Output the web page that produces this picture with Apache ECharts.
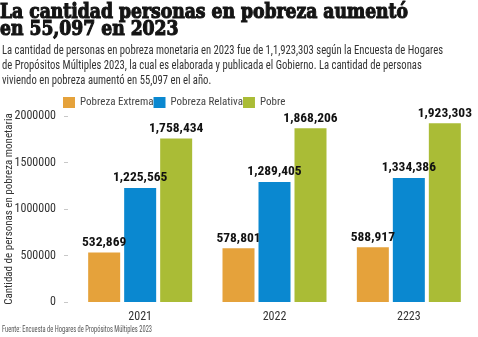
<!DOCTYPE html>
<html>
<head>
<meta charset="utf-8">
<script src="https://cdn.jsdelivr.net/npm/echarts@6/dist/echarts.min.js"></script>
<style>
  html, body { margin: 0; padding: 0; background: #fff; }
  #chart { width: 478px; height: 337px; }
</style>
</head>
<body>
<div id="chart"></div>
<script>
// Poverty counts by year and category
const years = ['2021', '2022', '2223'];
const seriesNames = ['Pobreza Extrema', 'Pobreza Relativa', 'Pobre'];
const pobrezaExtrema = [532869, 578801, 588917];
const pobrezaRelativa = [1225565, 1289405, 1334386];
const pobre = [1758434, 1868206, 1923303];
const yTicks = [0, 500000, 1000000, 1500000, 2000000];
const colors = ['#E5A23B', '#0A88D0', '#AABC36'];

const titleLines = ['La cantidad personas en pobreza aumentó', 'en 55,097 en 2023'];
const subLines = [
  'La cantidad de personas en pobreza monetaria en 2023 fue de 1,1,923,303 según la Encuesta de Hogares',
  'de Propósitos Múltiples 2023, la cual es elaborada y publicada el Gobierno. La cantidad de personas',
  'viviendo en pobreza aumentó en 55,097 en el año.'
];
const sourceText = 'Fuente: Encuesta de Hogares de Propósitos Múltiples 2023';
const yAxisTitle = 'Cantidad de personas en pobreza monetaria';

const condensed = '"Roboto Condensed", "DejaVu Sans Condensed", "Liberation Sans Narrow", sans-serif';
const slab = '"DejaVu Serif Condensed", "DejaVu Serif", serif';
const fmt = v => v.toLocaleString('en-US');

// Horizontal squeeze so headline / notes fit their column width
const measureCtx = document.createElement('canvas').getContext('2d');
function squeeze(text, font, targetWidth) {
  measureCtx.font = font;
  const w = measureCtx.measureText(text).width;
  return w > 0 ? targetWidth / w : 1;
}

const titleFont = { size: 21, family: slab, weight: 'bold' };
const titleScale = squeeze(titleLines[0], `bold ${titleFont.size}px ${slab}`, 408);
const subFont = { size: 12, family: condensed };
const subScale = squeeze(subLines[0], `normal ${subFont.size}px ${condensed}`, 441);
const srcScale = squeeze(sourceText, `normal 8.5px ${condensed}`, 150);

function textLine(text, x, y, scale, style) {
  return {
    type: 'text',
    x: x, y: y,
    scaleX: scale,
    silent: true,
    style: Object.assign({ text: text, verticalAlign: 'middle', align: 'left' }, style)
  };
}

const graphics = [];
const titleY = [13, 30];
titleLines.forEach((t, i) => graphics.push(textLine(t, 0, titleY[i], titleScale, {
  fontSize: titleFont.size, fontFamily: titleFont.family, fontWeight: 'bold',
  fill: '#141414', stroke: '#141414', lineWidth: 1.1
})));
const subY = [51, 66, 81];
subLines.forEach((t, i) => graphics.push(textLine(t, 2, subY[i], subScale, {
  fontSize: subFont.size, fontFamily: subFont.family, fill: '#333'
})));
graphics.push(textLine(sourceText, 2, 330, srcScale, {
  fontSize: 8.5, fontFamily: condensed, fill: '#555'
}));

const chart = echarts.init(document.getElementById('chart'), null, { renderer: 'canvas' });

function barSeries(name, data, color) {
  return {
    name: name,
    type: 'bar',
    data: data,
    barWidth: 32,
    barGap: '12.5%',
    itemStyle: { color: color },
    label: {
      show: true,
      position: 'top',
      distance: 3,
      formatter: p => fmt(p.value),
      fontFamily: condensed,
      fontWeight: 'bold',
      fontSize: 13.5,
      color: '#111'
    }
  };
}

chart.setOption({
  animation: false,
  graphic: graphics,
  legend: {
    data: seriesNames,
    left: 58, top: 92,
    itemWidth: 12, itemHeight: 11,
    itemGap: 0,
    icon: 'rect',
    textStyle: { fontFamily: condensed, fontSize: 11, color: '#444' }
  },
  grid: { left: 73, right: 2, top: 116, bottom: 35, containLabel: false, outerBoundsMode: 'none' },
  xAxis: {
    type: 'category',
    data: years,
    axisLine: { show: false },
    axisTick: { show: false },
    axisLabel: { fontFamily: condensed, fontSize: 12, color: '#333', margin: 9 }
  },
  yAxis: {
    type: 'value',
    min: yTicks[0],
    max: yTicks[yTicks.length - 1],
    interval: 500000,
    offset: 5,
    name: yAxisTitle,
    nameLocation: 'middle',
    nameGap: 53,
    nameMoveOverlap: false,
    nameTextStyle: { fontFamily: condensed, fontSize: 11, color: '#333' },
    axisLine: { show: false },
    axisTick: { show: true, length: 4, lineStyle: { color: '#c8c8c8' } },
    splitLine: { show: false },
    axisLabel: { fontFamily: condensed, fontSize: 12, color: '#333', margin: 12, formatter: v => String(v) }
  },
  series: [
    barSeries(seriesNames[0], pobrezaExtrema, colors[0]),
    barSeries(seriesNames[1], pobrezaRelativa, colors[1]),
    barSeries(seriesNames[2], pobre, colors[2])
  ]
});
</script>
</body>
</html>
